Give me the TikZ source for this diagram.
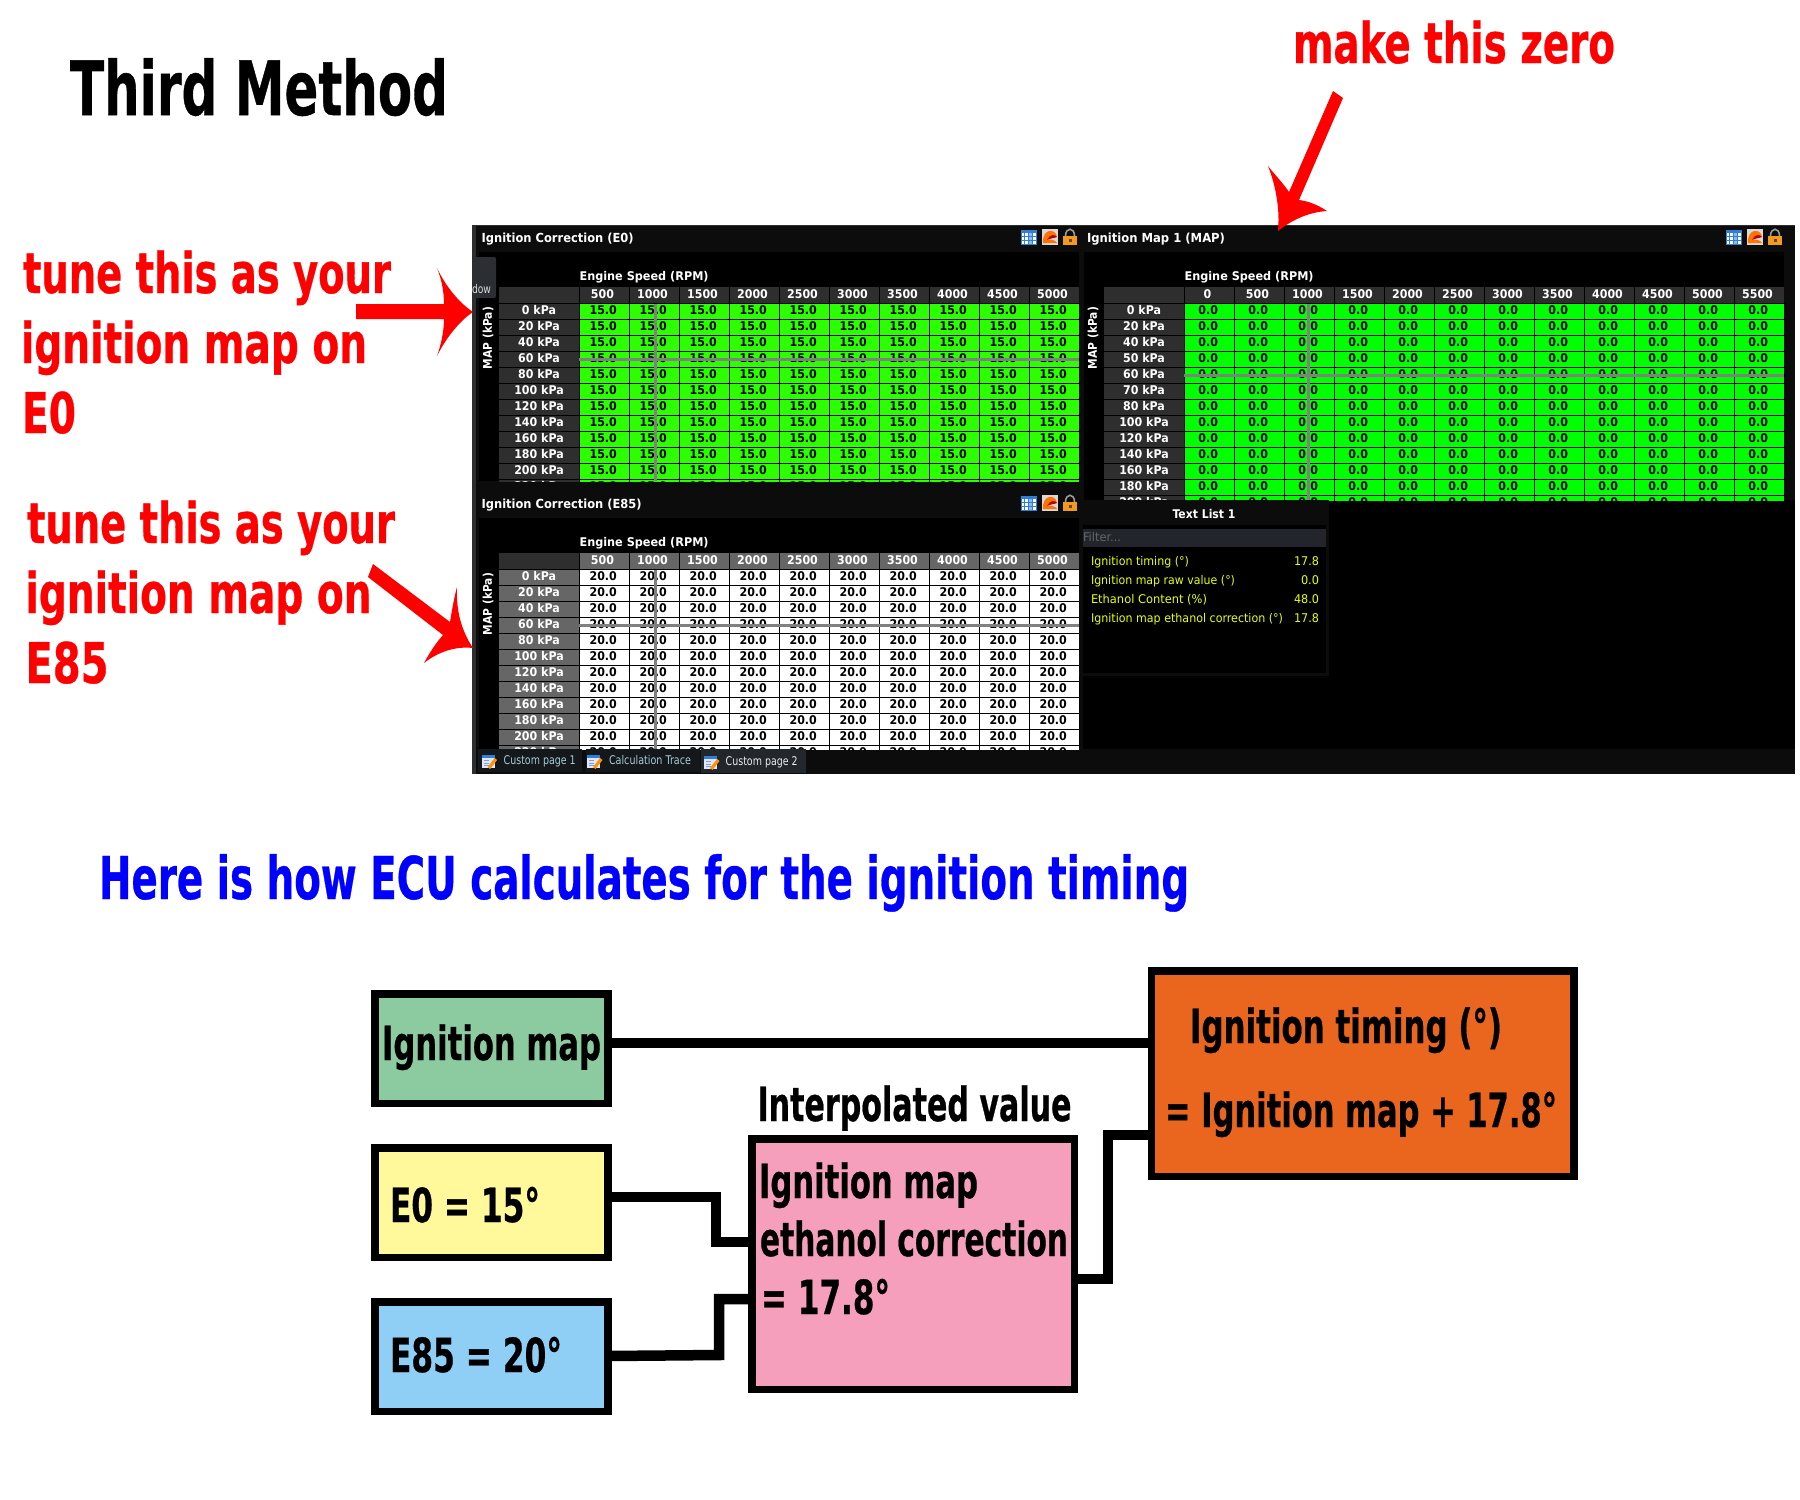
\documentclass[tikz,border=0pt]{standalone}
\usepackage{fontspec}
\usepackage{graphicx}
\setmainfont{DejaVu Sans}
\newfontfamily\cellf{DejaVu Sans}[FakeStretch=0.92]
\newfontfamily\heavy{DejaVu Sans}[BoldFeatures={FakeBold=0.7}]
\definecolor{redx}{HTML}{FF0000}
\definecolor{bluex}{HTML}{0000FF}
\definecolor{gA}{HTML}{2CFF00}
\definecolor{gB}{HTML}{00FF00}
\definecolor{darkcell}{HTML}{2E2E2E}
\definecolor{midcell}{HTML}{666666}
\definecolor{barbg}{HTML}{0C0C0C}
\definecolor{cross}{HTML}{808080}
\definecolor{yel}{HTML}{E8FF00}
\definecolor{boxgreen}{HTML}{8BCB9F}
\definecolor{boxyellow}{HTML}{FFF99B}
\definecolor{boxblue}{HTML}{8FCEF5}
\definecolor{boxpink}{HTML}{F59FBC}
\definecolor{boxorange}{HTML}{EA651D}
\definecolor{tabA}{HTML}{14181B}
\definecolor{tabB}{HTML}{22272B}
\definecolor{filterbg}{HTML}{22262C}
\definecolor{dowbg}{HTML}{2B2E32}
\definecolor{icoblue}{HTML}{2E7FD8}
\definecolor{lockor}{HTML}{F29A1F}
\definecolor{lockgr}{HTML}{9A9A9A}
\newcommand{\wtext}[2]{\resizebox{#1pt}{\height}{#2}}
\tikzset{
  txt/.style={inner sep=0pt,outer sep=0pt,anchor=base west},
  big/.style={txt,font=\heavy\bfseries\fontsize{56}{56}\selectfont,text=redx},
  boxtxt/.style={txt,font=\heavy\bfseries\fontsize{47}{47}\selectfont,text=black},
  flowbox/.style={draw=black,line width=7.5pt,inner sep=0pt,outer sep=0pt},
  conn/.style={draw=black,line width=10.5pt,line cap=butt,line join=miter},
  ctxt/.style={inner sep=0pt,outer sep=0pt,anchor=base,font=\cellf\bfseries\fontsize{12}{12}\selectfont},
  ltxt/.style={txt,font=\fontsize{12}{12}\selectfont},
  ptitle/.style={txt,font=\bfseries\fontsize{12.5}{12.5}\selectfont,text=white},
  crossline/.style={draw=cross,line width=3pt},
}
\newcommand{\datatable}[9]{%
  \begin{scope}
  \clip (#9-81,#2) rectangle (1795,#3);
  \foreach \cc [count=\ci from 0] in #4 {
    \pgfmathsetmacro{\xl}{#1+\ci*#8}
    \pgfmathsetmacro{\xm}{\xl+#8/2-1.5}
    \fill[\hdrfill] (\xl,#2) rectangle ++(#8,16);
    \draw[black,line width=1pt] (\xl,#2) -- ++(0,16);
    \node[ctxt,text=white] (\tname h\ci) at (\xm,#2+11.3) {\cc};
  }
  \fill[\cornerfill] (#9-80,#2) rectangle (#1,#2+16);
  \foreach \rr [count=\ri from 0] in #5 {
    \pgfmathsetmacro{\yt}{#2+16+\ri*16}
    \fill[\lblfill] (#9-80,\yt) rectangle (#1,\yt+16);
    \draw[black,line width=1pt] (#9-80,\yt) -- (#1,\yt);
    \node[ctxt,text=white] (\tname l\ri) at (#9-40,\yt+11.3) {\rr};
    \foreach \cc [count=\ci from 0] in #4 {
      \pgfmathsetmacro{\xl}{#1+\ci*#8}
      \pgfmathsetmacro{\xm}{\xl+#8/2-0.8}
      \fill[\cellfill] (\xl,\yt) rectangle ++(#8,16);
      \draw[black,line width=1pt] (\xl,\yt) rectangle ++(#8,16);
      \node[ctxt,text=black] (\tname c\ri-\ci) at (\xm,\yt+11.3) {#6};
    }
  }
  \end{scope}
}
\newcommand{\panelicons}[2]{%
  \begin{scope}[shift={(#1,#2)}]
    \fill[white] (-7.5,-7) rectangle (7.5,7);
    \fill[icoblue] (-7.5,-7) rectangle (7.5,-4.5);
    \fill[icoblue!55!white] (-1,-4.5) rectangle (3,7);
    \draw[icoblue,line width=1pt] (-7.5,-7) rectangle (7.5,7);
    \draw[icoblue,line width=.6pt] (-5,-4.5) -- (-5,7) (-1,-4.5) -- (-1,7) (3,-4.5) -- (3,7) (-7.5,-1) -- (7.5,-1) (-7.5,3) -- (7.5,3);
    \fill[white!85!black] (13,-8) rectangle (29,8);
    \fill[orange!90!red] (14,6) .. controls (13,-9) and (27,-9) .. (28,0) .. controls (24,-2) and (20,0) .. (18,3) .. controls (22,2) and (26,3) .. (28,6) -- cycle;
    \fill[red!75!black] (18,3) .. controls (21,-3) and (26,-3) .. (28,0) .. controls (26,1) and (22,1) .. (18,3) -- cycle;
    \draw[lockgr,line width=1.6pt] (36.5,-1) .. controls (36.5,-10) and (45.5,-10) .. (45.5,-1);
    \fill[lockor] (34,-1) rectangle (48,8);
    \fill[lockor!45!black] (39.5,1.5) rectangle (42.5,5);
  \end{scope}
}
\newcommand{\pageicon}[2]{%
  \begin{scope}[shift={(#1,#2)}]
    \fill[white!90!blue] (-7,-6) rectangle (6,7);
    \fill[icoblue] (-7,-6) rectangle (6,-3);
    \draw[icoblue!70!white,line width=.7pt] (-5,-0.5) -- (0,-0.5) (-5,2) -- (0,2) (-5,4.5) -- (0,4.5);
    \fill[orange!85!yellow] (-1,6) -- (6,-3) -- (8.5,-1) -- (1.5,8) -- cycle;
  \end{scope}
}
\begin{document}
\begin{tikzpicture}[x=1pt,y=-1pt]
\useasboundingbox (0,0) rectangle (1800,1500);
\fill[white] (0,0) rectangle (1800,1500);

% software window
\fill[barbg] (472,225) rectangle (1795,774);
\fill[darkcell] (472,225) rectangle (1795,226);
\fill[darkcell] (472,226) rectangle (476,774);
\fill[black] (479,252) rectangle (1079,481);
\fill[black] (1084,252) rectangle (1784,500);
\fill[black] (479,518) rectangle (1079,749);
\fill[black] (1083,500) rectangle (1795,749);
\fill[barbg] (1079,749) rectangle (1795,774);

% clipped tab
\fill[dowbg,rounded corners=2pt] (472,257) rectangle (496,298);
\node[ltxt,text=white!85!black] (dowtab) at (472,293) {\wtext{19}{dow}};

% panel titles
\node[ptitle] (t1) at (481.6,242) {\wtext{152}{Ignition Correction (E0)}};
\node[ptitle] (t2) at (1087,242) {\wtext{138}{Ignition Map 1 (MAP)}};
\node[ptitle] (t3) at (481.6,508) {\wtext{160}{Ignition Correction (E85)}};
\panelicons{1029}{237}
\panelicons{1734}{237}
\panelicons{1029}{503}

% axis titles
\node[ptitle,font=\bfseries\fontsize{12}{12}\selectfont] (e1) at (579.6,280) {\wtext{129}{Engine Speed (RPM)}};
\node[ptitle,font=\bfseries\fontsize{12}{12}\selectfont] (e2) at (1184.6,280) {\wtext{129}{Engine Speed (RPM)}};
\node[ptitle,font=\bfseries\fontsize{12}{12}\selectfont] (e3) at (579.6,546) {\wtext{129}{Engine Speed (RPM)}};
\node[inner sep=0pt,rotate=90,text=white,font=\bfseries\fontsize{12}{12}\selectfont] (m1) at (488,338) {\wtext{62}{MAP (kPa)}};
\node[inner sep=0pt,rotate=90,text=white,font=\bfseries\fontsize{12}{12}\selectfont] (m2) at (1093,338) {\wtext{62}{MAP (kPa)}};
\node[inner sep=0pt,rotate=90,text=white,font=\bfseries\fontsize{12}{12}\selectfont] (m3) at (488,604) {\wtext{62}{MAP (kPa)}};

% tables
\def\tname{a}\def\hdrfill{darkcell}\def\cornerfill{darkcell}\def\lblfill{darkcell}\def\cellfill{gA}
\datatable{579}{287}{481}{{500,1000,1500,2000,2500,3000,3500,4000,4500,5000}}{{0 kPa,20 kPa,40 kPa,60 kPa,80 kPa,100 kPa,120 kPa,140 kPa,160 kPa,180 kPa,200 kPa,220 kPa}}{15.0}{}{50}{579}
\draw[crossline] (579,359) -- (1079,359);
\draw[crossline] (655,304) -- (655,481);

\def\tname{b}\def\hdrfill{darkcell}\def\cornerfill{darkcell}\def\lblfill{darkcell}\def\cellfill{gB}
\datatable{1184}{287}{500}{{0,500,1000,1500,2000,2500,3000,3500,4000,4500,5000,5500}}{{0 kPa,20 kPa,40 kPa,50 kPa,60 kPa,70 kPa,80 kPa,100 kPa,120 kPa,140 kPa,160 kPa,180 kPa,200 kPa}}{0.0}{}{50}{1184}
\draw[crossline] (1184,375) -- (1784,375);
\draw[crossline] (1308.7,304) -- (1308.7,500);

\def\tname{c}\def\hdrfill{midcell}\def\cornerfill{darkcell}\def\lblfill{midcell}\def\cellfill{white}
\datatable{579}{553}{749}{{500,1000,1500,2000,2500,3000,3500,4000,4500,5000}}{{0 kPa,20 kPa,40 kPa,60 kPa,80 kPa,100 kPa,120 kPa,140 kPa,160 kPa,180 kPa,200 kPa,220 kPa}}{20.0}{}{50}{579}
\draw[crossline] (579,625) -- (1079,625);
\draw[crossline] (655,570) -- (655,749);

% text list
\fill[barbg] (1079,500) rectangle (1329,676);
\fill[black] (1083,525) rectangle (1326,673);
\fill[filterbg] (1083,529) rectangle (1326,547);
\node[txt,anchor=base,text=white,font=\bfseries\fontsize{12}{12}\selectfont] (tl) at (1204,518) {\wtext{63}{Text List 1}};
\node[ltxt,text=black!60!white] (fl) at (1083,541) {\wtext{38}{Filter...}};
\node[ltxt,text=yel] (y1) at (1091,565) {\wtext{98}{Ignition timing (°)}};
\node[ltxt,text=yel] (y2) at (1091,584) {\wtext{144}{Ignition map raw value (°)}};
\node[ltxt,text=yel] (y3) at (1091,603) {\wtext{116}{Ethanol Content (\%)}};
\node[ltxt,text=yel] (y4) at (1091,622) {\wtext{192}{Ignition map ethanol correction (°)}};
\node[ltxt,text=yel,anchor=base east] (v1) at (1319,565) {\wtext{25}{17.8}};
\node[ltxt,text=yel,anchor=base east] (v2) at (1319,584) {\wtext{18}{0.0}};
\node[ltxt,text=yel,anchor=base east] (v3) at (1319,603) {\wtext{25}{48.0}};
\node[ltxt,text=yel,anchor=base east] (v4) at (1319,622) {\wtext{25}{17.8}};

% tabs
\fill[tabA] (478,749) rectangle (582,772);
\fill[tabA] (586,749) rectangle (700,772);
\fill[tabB] (701,749) rectangle (806,773);
\pageicon{488.6}{761}
\pageicon{594}{761}
\pageicon{711}{762}
\node[ltxt,text=white!70!cyan!85!black] (tab1) at (503.7,764) {\wtext{72}{Custom page 1}};
\node[ltxt,text=white!70!cyan!85!black] (tab2) at (609,764) {\wtext{82}{Calculation Trace}};
\node[ltxt,text=white!92!black] (tab3) at (725.7,765) {\wtext{72}{Custom page 2}};

% headings
\node[txt,text=black,font=\heavy\bfseries\fontsize{75}{75}\selectfont] (title) at (70,115) {\wtext{378}{Third Method}};
\node[big] (zero) at (1293,63) {\wtext{322}{make this zero}};
\node[big] (a1) at (23,293) {\wtext{368}{tune this as your}};
\node[big] (a2) at (21,363) {\wtext{346}{ignition map on}};
\node[big] (a3) at (22,433) {\wtext{54}{E0}};
\node[big] (b1) at (27,543) {\wtext{368}{tune this as your}};
\node[big] (b2) at (25.5,613) {\wtext{346}{ignition map on}};
\node[big] (b3) at (25.5,683) {\wtext{83}{E85}};
\node[txt,text=bluex,font=\heavy\bfseries\fontsize{59}{59}\selectfont] (how) at (99,899) {\wtext{1090}{Here is how ECU calculates for the ignition timing}};

% red arrows
\fill[redx] (356,304) -- (444,304) .. controls (444,290) and (441,278) .. (437,268) .. controls (445,285) and (458,302) .. (473,312) .. controls (458,322) and (445,340) .. (437,356) .. controls (441,345) and (444,331) .. (444,319) -- (356,319) -- cycle;
\fill[redx] (373,564) -- (450,622) .. controls (452,610) and (454,598) .. (457,587) .. controls (456,610) and (461,630) .. (473,648) .. controls (455,646) and (438,652) .. (424,663) .. controls (430,652) and (436,643) .. (443,635) -- (368,577) -- cycle;
\fill[redx] (1333,91) -- (1343,98) -- (1299,200) .. controls (1308,201) and (1318,205) .. (1327,211) .. controls (1310,212) and (1293,219) .. (1278,231) .. controls (1280,210) and (1276,186) .. (1268,166) .. controls (1275,175) and (1283,183) .. (1289,192) -- cycle;

% flow diagram
\node[flowbox,fill=boxgreen,minimum width=233pt,minimum height=109.5pt] (gbox) at (491.25,1048.5) {};
\node[flowbox,fill=boxyellow,minimum width=233pt,minimum height=109.5pt] (ybox) at (491.25,1202.5) {};
\node[flowbox,fill=boxblue,minimum width=233pt,minimum height=109.5pt] (bbox) at (491.25,1356.5) {};
\node[flowbox,fill=boxpink,minimum width=322.5pt,minimum height=250.5pt] (pbox) at (913,1264) {};
\node[flowbox,fill=boxorange,minimum width=422.5pt,minimum height=205.5pt] (obox) at (1362.75,1073.5) {};

\draw[conn] ([yshift=5.5pt]gbox.east) -- ([yshift=5.5pt]gbox.east -| obox.west);
\coordinate (yturn) at (716,1197);
\coordinate (bturn) at (719,1355);
\coordinate (oturn) at (1108,1279);
\draw[conn] ([yshift=5.5pt]ybox.east) -- (yturn) |- ([yshift=22pt]pbox.west);
\draw[conn] ([yshift=0.5pt]bbox.east) -- (bturn) |- ([yshift=-35pt]pbox.west);
\draw[conn] ([yshift=-15pt]pbox.east) -- (oturn) |- ([yshift=-61.5pt]obox.west);

\node[boxtxt] (gt) at (382,1060) {\wtext{219}{Ignition map}};
\node[boxtxt] (yt) at (390,1222) {\wtext{150}{E0 = 15°}};
\node[boxtxt] (bt) at (390,1372) {\wtext{172}{E85 = 20°}};
\node[boxtxt] (it) at (757.5,1121) {\wtext{314}{Interpolated value}};
\node[boxtxt] (p1) at (759,1198) {\wtext{219}{Ignition map}};
\node[boxtxt] (p2) at (760,1256) {\wtext{308}{ethanol correction}};
\node[boxtxt] (p3) at (761,1314) {\wtext{129}{= 17.8°}};
\node[boxtxt] (o1) at (1190,1043) {\wtext{312}{Ignition timing (°)}};
\node[boxtxt] (o2) at (1165,1127) {\wtext{392}{= Ignition map + 17.8°}};
\end{tikzpicture}
\end{document}
